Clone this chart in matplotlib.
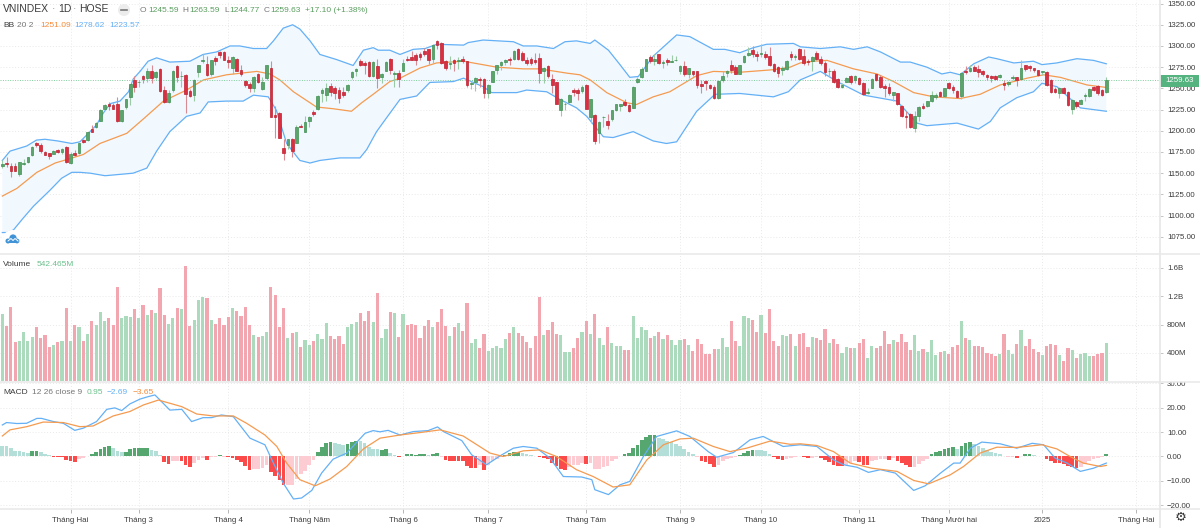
import matplotlib
matplotlib.use('Agg')
import matplotlib.pyplot as plt
from matplotlib.patches import Circle, Rectangle
from matplotlib.transforms import Bbox

plt.rcParams['font.family'] = ['Liberation Sans', 'DejaVu Sans']

# Daily candles, 260 sessions
open_p = [1159,1162,1159,1159,1149,1161,1163,1171,1186,1183,
    1175,1174,1173,1177,1175,1181,1162,1174,1174,1189,
    1189,1202,1204,1212,1226,1232,1230,1231,1211,1228,
    1240,1260,1257,1265,1262,1270,1263,1273,1248,1234,
    1248,1276,1264,1266,1247,1242,1269,1282,1279,1267,
    1286,1293,1293,1283,1274,1285,1272,1259,1255,1251,
    1267,1249,1262,1274,1219,1221,1180,1183,1190,1185,
    1206,1199,1211,1222,1226,1244,1242,1253,1251,1248,
    1246,1248,1263,1270,1282,1280,1281,1264,1276,1263,
    1271,1285,1267,1268,1271,1285,1287,1289,1290,1294,
    1296,1285,1306,1304,1282,1279,1283,1282,1285,1282,
    1255,1258,1261,1261,1245,1258,1272,1278,1281,1285,
    1285,1296,1292,1284,1285,1283,1286,1270,1276,1261,
    1257,1224,1231,1234,1248,1248,1247,1254,1216,1219,
    1197,1216,1212,1214,1225,1229,1234,1230,1227,1258,
    1263,1271,1287,1282,1290,1280,1284,1281,1283,1270,
    1276,1267,1270,1270,1255,1259,1254,1252,1239,1260,
    1268,1278,1275,1267,1281,1289,1295,1290,1290,1290,
    1288,1279,1275,1272,1273,1290,1287,1297,1288,1282,
    1282,1292,1285,1280,1270,1271,1261,1252,1258,1264,
    1260,1262,1256,1245,1251,1267,1263,1253,1252,1242,
    1244,1229,1218,1220,1203,1217,1229,1229,1235,1240,
    1246,1241,1256,1252,1247,1241,1271,1271,1275,1273,
    1270,1266,1264,1265,1263,1256,1255,1262,1263,1261,
    1277,1276,1274,1272,1269,1269,1260,1249,1245,1251,
    1246,1226,1234,1232,1241,1241,1252,1253,1248,1245.59]
high_p = [1165,1169,1162,1162,1163,1167,1169,1182,1187,1185,
    1176,1174,1177,1179,1180,1182,1175,1177,1186,1190,
    1199,1207,1210,1226,1231,1234,1233,1240,1225,1238,
    1255,1265,1260,1266,1274,1278,1270,1274,1253,1248,
    1272,1277,1271,1267,1249,1261,1278,1291,1288,1284,
    1288,1294,1294,1288,1288,1286,1278,1260,1258,1264,
    1268,1263,1278,1282,1229,1222,1190,1190,1191,1207,
    1208,1217,1217,1225,1242,1250,1256,1256,1253,1252,
    1252,1255,1271,1274,1285,1282,1282,1282,1285,1268,
    1282,1286,1270,1272,1285,1288,1294,1292,1293,1298,
    1296,1302,1307,1305,1283,1288,1285,1287,1288,1282,
    1259,1263,1263,1262,1255,1271,1278,1282,1285,1287,
    1295,1298,1294,1287,1287,1292,1292,1275,1277,1267,
    1257,1239,1235,1243,1250,1250,1254,1255,1237,1220,
    1211,1218,1220,1224,1232,1232,1237,1231,1253,1263,
    1275,1285,1289,1290,1291,1283,1286,1289,1288,1277,
    1282,1274,1271,1271,1260,1260,1255,1254,1260,1271,
    1272,1284,1277,1278,1289,1299,1300,1294,1302,1294,
    1299,1280,1276,1276,1283,1294,1290,1298,1296,1285,
    1288,1294,1288,1282,1274,1273,1262,1256,1263,1266,
    1266,1263,1257,1250,1262,1267,1266,1255,1256,1246,
    1245,1230,1223,1221,1223,1229,1233,1235,1247,1244,
    1247,1251,1258,1254,1248,1269,1276,1277,1278,1277,
    1272,1267,1266,1266,1267,1260,1259,1266,1263,1283,
    1278,1278,1274,1272,1271,1270,1261,1252,1252,1252,
    1247,1237,1235,1237,1244,1250,1253,1254,1249,1263.59]
low_p = [1156,1157,1146,1152,1147,1160,1162,1170,1181,1174,
    1171,1167,1173,1174,1173,1162,1161,1170,1173,1185,
    1188,1198,1203,1211,1224,1225,1226,1210,1210,1226,
    1230,1246,1252,1256,1257,1256,1261,1246,1233,1233,
    1246,1258,1252,1221,1240,1235,1263,1280,1264,1265,
    1277,1286,1283,1274,1267,1270,1265,1252,1246,1246,
    1256,1248,1260,1216,1191,1191,1165,1179,1169,1185,
    1204,1198,1205,1218,1224,1234,1235,1241,1238,1233,
    1240,1246,1261,1265,1276,1267,1263,1263,1250,1256,
    1270,1267,1252,1252,1270,1282,1283,1278,1283,1288,
    1279,1280,1297,1279,1272,1273,1270,1273,1280,1252,
    1249,1247,1252,1239,1239,1257,1267,1272,1278,1277,
    1284,1284,1282,1277,1278,1279,1256,1256,1262,1244,
    1231,1218,1225,1233,1241,1236,1245,1226,1209,1184,
    1185,1204,1202,1211,1223,1223,1229,1222,1227,1256,
    1262,1270,1280,1278,1279,1274,1277,1281,1282,1267,
    1264,1262,1264,1250,1244,1248,1249,1237,1238,1258,
    1263,1268,1267,1267,1280,1288,1287,1282,1287,1285,
    1276,1269,1263,1266,1272,1284,1284,1284,1277,1277,
    1271,1284,1277,1265,1263,1256,1251,1251,1257,1255,
    1256,1254,1242,1243,1250,1259,1250,1240,1242,1235,
    1230,1216,1203,1203,1198,1212,1226,1228,1234,1238,
    1240,1240,1249,1244,1239,1237,1267,1269,1270,1263,
    1265,1260,1258,1260,1262,1248,1253,1260,1253,1260,
    1271,1271,1269,1265,1266,1253,1245,1245,1239,1244,
    1229,1220,1227,1231,1235,1240,1247,1242,1241,1244.77]
close_p = [1161,1161,1153,1153,1163,1162,1169,1181,1183,1176,
    1172,1170,1176,1175,1179,1163,1173,1171,1186,1187,
    1199,1199,1209,1225,1230,1229,1226,1211,1224,1237,
    1255,1252,1258,1261,1270,1262,1269,1247,1234,1245,
    1271,1263,1264,1243,1241,1260,1277,1283,1266,1283,
    1282,1289,1284,1281,1287,1271,1267,1254,1250,1263,
    1258,1258,1277,1216,1216,1192,1174,1190,1176,1205,
    1205,1210,1216,1220,1241,1248,1251,1246,1244,1239,
    1242,1254,1269,1273,1277,1278,1265,1281,1262,1267,
    1281,1272,1268,1261,1280,1283,1284,1283,1287,1290,
    1284,1301,1301,1280,1274,1280,1280,1283,1282,1254,
    1256,1262,1260,1244,1254,1270,1277,1281,1284,1283,
    1294,1285,1283,1280,1280,1281,1268,1274,1264,1254,
    1232,1238,1232,1242,1246,1245,1252,1226,1237,1188,
    1210,1216,1207,1224,1231,1231,1230,1223,1252,1261,
    1273,1285,1282,1285,1280,1281,1281,1282,1284,1276,
    1267,1274,1267,1254,1253,1256,1251,1239,1259,1265,
    1271,1272,1267,1277,1288,1292,1290,1288,1292,1287,
    1278,1270,1268,1274,1282,1287,1288,1285,1280,1281,
    1287,1285,1280,1269,1271,1257,1252,1254,1262,1258,
    1264,1255,1243,1246,1261,1260,1252,1250,1244,1246,
    1232,1218,1216,1205,1217,1228,1227,1235,1242,1242,
    1241,1250,1251,1248,1240,1268,1269,1274,1271,1269,
    1267,1263,1262,1261,1266,1254,1258,1263,1260,1274,
    1273,1274,1272,1266,1270,1254,1246,1246,1251,1245,
    1230,1236,1229,1236,1242,1249,1248,1245,1242,1259.63]

# Volume, millions
volume = [943,780,1042,560,575,700,566,628,770,604,
    652,485,505,557,570,1028,570,790,770,566,
    671,847,795,980,847,895,800,1333,895,923,
    900,1014,890,1071,928,1009,957,1314,933,804,
    895,1028,1014,1623,785,866,1142,1185,1171,866,
    809,895,790,900,1033,995,923,1042,790,652,
    624,643,700,1323,1218,771,1033,614,680,700,
    490,576,510,566,671,595,818,643,600,643,
    528,762,804,838,957,847,995,838,1247,604,
    743,971,961,624,
    943,790,814,800,604,780,866,770,838,1014,
    780,633,770,818,709,1109,547,595,476,671,
    433,471,500,476,600,680,762,680,643,557,
    476,643,1185,652,728,843,671,657,419,419,
    466,604,690,857,662,952,614,514,766,547,
    495,495,447,438,923,614,771,719,614,643,
    700,595,657,585,514,585,595,514,433,600,
    519,381,390,457,462,604,485,847,566,495,
    914,895,861,700,928,680,1014,571,500,652,
    643,671,495,671,
    681,486,624,614,585,733,543,595,528,400,
    490,476,476,543,600,333,500,476,500,714,
    519,585,557,671,557,438,652,428,457,409,
    576,371,414,428,390,486,514,847,604,585,
    500,500,490,400,390,362,390,671,443,390,
    524,724,500,600,457,409,371,500,524,514,
    371,286,476,438,328,390,395,362,362,381,
    400,542.465]

# MACD histogram and its colour class per bar
macd_hist = [4.4,4.4,3.3,2.2,2.2,1.8,1.6,2.2,2.3,1.9,
    1.2,.7,-.1,-.2,-.3,-1.5,-1.9,-2.2,-1.2,-.5,
    .4,1.1,1.8,3.1,4.0,4.4,3.5,2.2,1.8,2.0,
    3.1,3.3,3.3,3.4,3.4,2.7,2.2,.7,-2.3,-3.0,
    -1.9,-1.9,-1.9,-3.4,-4.2,-2.7,-1.6,-.7,-1.4,-.3,
    -.3,.5,-.1,-.4,-.5,-1.6,-2.4,-3.8,-5.4,-5.0,
    -5.0,-4.8,-3.4,-6.3,-7.9,-9.7,-11.8,-11.6,-11.6,-9.2,
    -7.1,-6.1,-3.4,-1.4,1.8,3.8,5.4,5.9,5.4,5.0,
    4.9,5.0,5.9,6.3,6.3,5.4,3.7,3.0,3.1,2.7,
    3.0,1.4,.7,-.4,
    .4,1.0,1.0,.8,1.0,1.2,.7,1.0,1.5,-.1,
    -1.5,-1.8,-2.0,-2.0,-2.0,-3.8,-4.9,-4.9,-3.5,-5.4,
    -3.4,-2.0,-1.0,-.3,.5,1.4,2.0,2.0,1.4,1.1,
    .8,.4,-.4,-.6,-1.0,-2.7,-4.0,-5.2,-5.7,-4.1,
    -3.4,-3.4,-2.7,-3.1,-2.7,-5.0,-5.0,-4.4,-3.8,-2.0,
    -1.0,.3,1.1,1.5,3.4,4.8,6.8,8.0,8.8,8.8,
    7.5,7.2,6.5,6.1,5.0,4.1,3.0,2.0,1.1,-.2,
    -2.0,-2.4,-3.0,-4.2,-3.4,-1.9,-1.0,-.7,-.3,.7,
    1.6,2.2,2.7,2.7,2.7,2.1,1.2,-.3,-1.0,-1.6,
    -1.0,-.6,-.3,.1,
    -.1,-.7,-.5,-.3,-.8,-1.4,-2.4,-3.3,-4.0,-4.0,
    -3.4,-2.7,-1.9,-2.4,-3.3,-3.3,-1.9,-1.3,-1.0,-1.0,
    -1.3,-.7,-2.0,-2.7,-3.4,-4.5,-4.2,-3.0,-2.0,-1.0,
    1.2,1.8,2.4,3.0,3.5,3.9,3.2,4.4,5.4,5.9,
    5.2,4.4,3.4,2.7,2.0,1.5,.9,.2,-.3,-.4,
    -.5,.4,.9,1.2,.6,.3,.1,-1.2,-2.0,-2.7,
    -2.7,-3.0,-3.7,-4.2,-4.7,-4.2,-3.0,-1.8,-1.1,-.7,
    -.3,.95]
hist_kinds = ('gggggggGGgggRRRRRRrrGGGGGGgggGGGGGGgggRRrrRRRrrrRrrGrRRRRRRrrrrRRRRrrrrrrrGGGGgggGGGgggggGGggR'
    'GGGGGGgGGrRRRRRRRRrRrrrrGGGGggggRRRRRRRrrrrRrrrrrrrGGGGGGGGGgggggggggrRRRRrrrrrGGGGggggRRRrrrg'
    'RRrrRRRRRRrrrRRRrrrrRrRRRRrrrrGGGGGGgGGGggggggggrrRGGGgggRRRRRRRRrrrrrrG')

# Bollinger bands, vertices (bar index, price)
bb_upper_x = [0,1.8,5.7,8,10,13,16.3,18.2,20.2,22.1,23.7,25.3,27.6,29.6,30.7,32.3,34.2,36.2,39.3,44,
    47.1,50.3,53.4,55.7,58.9,62,63.6,65.9,68.1,69.8,72.2,74.5,78.4,82.3,84.7,87,88.2,90.9,93.3,96.4,
    99.2,101.9,108.2,109.3,112.8,119.9,122.2,125.4,129.3,132,134.7,137.9,139,142.2,144.9,147.2,149.2,152.7,158.2,161.3,
    166.8,169.5,173,176.2,179.3,185.6,187.2,191.9,196.6,199.7,202.9,206,210.7,213,216.9,220.4,222.4,224.7,227.9,231.4,
    233.3,237.3,241.9,243.9,247.4,252.1,256,259]
bb_upper = [1165,1176,1182,1189,1190,1188,1185,1187,1197,1207,1221,1232,1235,1246,1261,1270,1282,1286,1281,1282,
    1290,1293,1300,1300,1297,1297,1306,1321,1325,1320,1306,1290,1284,1277,1295,1298,1295,1295,1290,1296,
    1297,1302,1301,1304,1307,1305,1300,1300,1297,1305,1306,1303,1307,1295,1278,1263,1264,1288,1313,1311,
    1296,1296,1292,1298,1302,1303,1299,1297,1299,1296,1299,1293,1281,1281,1275,1267,1269,1266,1279,1287,
    1285,1280,1282,1278,1280,1285,1283,1279]
bb_lower_x = [0,1,2.6,4.9,7.3,11.2,13.9,16.3,18.2,20.6,24.1,30.7,33.9,36.2,39.3,43.2,46.4,48.3,52.6,56.5,
    58.9,62.4,64.3,66.7,69.8,72.2,74.5,79.2,83.9,85.5,87.8,90.1,93.3,97.2,100.3,105.8,108.2,112.8,114.8,120.7,
    123,127.7,130.8,134.7,137.1,141,143.3,148,152.7,155.8,158.2,162.9,167.2,173,180.9,184.4,187.2,191.9,196.6,202.1,
    209.9,214.6,216.9,224,229,231.8,234.1,238,241.9,243.9,247.4,252.9,259]
bb_lower = [1080,1080,1083,1097,1111,1130,1144,1151,1151,1150,1147,1150,1156,1176,1199,1217,1221,1234,1235,1235,
    1242,1240,1224,1185,1165,1162,1165,1168,1168,1178,1199,1215,1237,1241,1257,1258,1262,1252,1245,1245,
    1248,1246,1237,1227,1217,1193,1192,1199,1188,1185,1187,1223,1243,1244,1240,1246,1260,1270,1256,1242,
    1235,1209,1206,1209,1202,1211,1227,1239,1246,1256,1252,1227,1223]
bb_mid_x = [0,3.4,8.1,12.4,15.1,19,22.9,29.2,33.1,37.8,43.2,47.2,52.6,56.1,59.7,62.8,65.1,68.3,73.7,77.6,
    81.9,84.3,87,90.9,93.3,98,101.9,108.2,116,122.2,126.1,132.4,135.5,137.9,141.8,146.5,148.8,152.7,156.6,162.9,
    166.8,173,180.9,184.8,187.2,190.3,193.5,199.7,205.2,209.1,213.8,218.5,224.7,229.4,234.1,240.4,244.3,248.2,254.5,259]
bb_mid = [1123,1132,1151,1162,1166,1172,1185,1197,1214,1235,1248,1260,1266,1268,1270,1267,1260,1246,1228,1226,
    1223,1233,1243,1258,1262,1274,1280,1282,1275,1273,1273,1268,1266,1260,1245,1233,1231,1240,1246,1265,
    1270,1269,1272,1275,1280,1282,1283,1273,1267,1258,1245,1240,1238,1243,1254,1262,1266,1263,1254,1251.09]

# MACD and signal lines, vertices
macd_x = [0,1,3.4,5.7,8.1,9.2,12,14.3,17,19,22.1,24.5,26.4,28,29.9,32.3,34.2,35.8,37,39.3,
    42.1,44.4,47.1,49.1,51.4,54.2,58.1,61.6,63.6,65.9,68.3,70.2,72.6,74.9,77.6,80.8,85.1,87,88.6,90.5,
    93.3,96.4,99.9,102.1,103.5,107.8,110.1,113.6,116.8,119.9,122.2,125.4,128.5,131.6,135.9,138.3,139,142.2,144.9,147.2,
    150.4,153.5,158.2,161.3,165.6,167.6,171.5,175.4,178.5,183.2,187.2,191.1,195,197.4,200.5,203.2,206,209.5,213.8,216.5,
    220.1,223.2,224.7,227.1,229.8,234.1,238,241.6,244.3,247,249.8,252.9,256,259]
macd_line = [12.9,13.9,13.5,13.6,15.6,15.6,14.3,13.6,10.7,11.6,14.3,19.3,19.9,18.8,21.5,23.5,24.5,25.2,23.1,19,
    19.3,14.3,15.9,15.9,17,16.3,7.5,4.8,-2.7,-10.9,-17.4,-17,-13.9,-6.8,-1.1,1.4,9.5,10.6,10.1,10.7,
    8.8,10.2,10.6,12.1,10.2,6.5,.7,-3.4,.3,3.4,4.1,3.4,-.7,-8.2,-8.4,-9.5,-13.6,-15.6,-11.6,-10.2,
    0,8.2,10.5,8.2,2,-.3,1.6,6.8,8.2,4.1,4.8,4.1,-1.4,-3.4,-4.4,-6.5,-5.4,-6.8,-13.9,-12,
    -6.8,-2.7,-2.7,3.4,5.9,5.2,3.4,5.4,4.8,-.7,-2.7,-6.1,-4.8,-2.69]
signal_x = [0,1.8,5.7,9.6,14.3,18.2,21.3,26,29.9,33.1,36.6,39.3,42.1,45.6,49.5,54.2,57.3,61.6,64.4,66.7,
    69.8,73.4,76.9,80.8,84.7,88.6,93.3,98,102.7,108.1,114.4,117.5,122.2,126.1,130,134.7,138.6,143.3,147.2,151.2,
    155.1,159,162.1,166.8,170.7,174.6,180.1,184.8,187.2,191.1,195,198.9,204,209.9,213.8,217.3,222.4,225.5,229.4,233.3,
    238,243.9,247.4,250.5,253.6,257.6,259]
signal_line = [8.4,10.9,12.2,14.1,13.9,12.2,12.5,16.6,18.4,21.1,23.1,21.8,20.4,17.4,16.6,16.6,13.6,8.8,4.1,-2.7,
    -9.5,-12,-9.2,-4.1,3.1,7.5,8.8,9.8,10.9,8.4,1.4,0,2.3,2.7,0,-5.4,-8.2,-12.5,-11.6,-1.4,
    4.8,7.2,7.5,4.1,2,3.4,6.3,5,5.2,4.5,2,-2.7,-4.8,-6.1,-9.8,-11.2,-7.5,-4.1,1.4,3.8,
    3.7,4.8,3.1,0,-2.7,-4.1,-3.65]

# Axis labels
month_ticks = [16,32,53,72,94,114,137,159,178,201,222,244,266]
month_labels = ['Tháng Hai','Tháng 3','Tháng 4','Tháng Năm','Tháng 6','Tháng 7','Tháng Tám','Tháng 9',
    'Tháng 10','Tháng 11','Tháng Mười hai','2025','Tháng Hai']
price_ticks = [1075,1100,1125,1150,1175,1200,1225,1250,1275,1300,1325,1350]
volume_ticks = [400,800,1200,1600]
volume_labels = ['400M','800M','1.2B','1.6B']
macd_ticks = [-20,-10,0,10,20,30]
last_close = 1259.63

assert len(open_p) == len(high_p) == len(low_p) == len(close_p) == len(volume) == len(macd_hist) == len(hist_kinds) == 260

UP = '#5ba56c'
UP_EDGE = '#3f9052'
UP_WICK = '#9ccaa6'
DOWN = '#d92f40'
DOWN_EDGE = '#bf2030'
DOWN_WICK = '#d98b94'
BLUE = '#64b0f6'
ORANGE = '#f59b50'
GRID = '#e9e9e9'
TEXT = '#3c3c3c'
BAND = '#e8e8e8'
HIST_COLORS = {'G': '#55a76f', 'g': '#b4dfd9', 'R': '#fb4a4a', 'r': '#fdccd2'}

W, H = 1200, 528
RIGHT = 1160
bars = list(range(len(close_p)))
# 4.2625 px per bar, the first bar sits 2.33 px from the left edge
xlim = (-2.33 / 4.2625, (RIGHT - 2.33) / 4.2625)

fig = plt.figure(figsize=(W / 100, H / 100), dpi=100, facecolor='white')

def panel(top, bottom):
    ax = fig.add_axes([0, 1 - bottom / H, RIGHT / W, (bottom - top) / H])
    ax.set_xlim(xlim)
    for s in ax.spines.values():
        s.set_visible(False)
    ax.yaxis.tick_right()
    ax.tick_params(axis='y', length=2, width=0.6, color='#bbbbbb', pad=3, labelsize=5.7, labelcolor=TEXT)
    ax.tick_params(axis='x', length=0, labelbottom=False)
    ax.set_xticks(month_ticks)
    ax.grid(True, color=GRID, linestyle=(0, (1, 2)), linewidth=0.7)
    ax.set_axisbelow(True)
    return ax

ax_price = panel(0, 254)
ax_vol = panel(254, 382)
ax_macd = panel(382, 509)

# Price panel
ax_price.set_ylim(1054.7, 1354.2)
ax_price.set_yticks(price_ticks)
ax_price.set_yticklabels(['%.2f' % p for p in price_ticks])
ax_price.fill(bb_upper_x + bb_lower_x[::-1], bb_upper + bb_lower[::-1], color='#f1f8fe', lw=0, zorder=1)
ax_price.plot(bb_upper_x, bb_upper, color=BLUE, lw=0.9, zorder=2)
ax_price.plot(bb_lower_x, bb_lower, color=BLUE, lw=0.9, zorder=2)
ax_price.plot(bb_mid_x, bb_mid, color=ORANGE, lw=0.9, zorder=2)
ax_price.axhline(last_close, color='#7fcb9b', lw=0.7, linestyle=(0, (1, 1.5)), zorder=2)

is_up = [c >= o for o, c in zip(open_p, close_p)]
ax_price.vlines(bars, low_p, high_p, colors=[UP_WICK if u else DOWN_WICK for u in is_up], lw=0.8, zorder=3)
ax_price.bar(bars, [max(abs(c - o), 0.6) for o, c in zip(open_p, close_p)],
             bottom=[min(o, c) for o, c in zip(open_p, close_p)], width=0.62,
             color=[UP if u else DOWN for u in is_up],
             edgecolor=[UP_EDGE if u else DOWN_EDGE for u in is_up], linewidth=0.5, zorder=4)

# Volume panel
ax_vol.set_ylim(-10, 1795)
ax_vol.set_yticks(volume_ticks)
ax_vol.set_yticklabels(volume_labels)
ax_vol.bar(bars, volume, width=0.74, color=['#abdabc' if u else '#f2a6af' for u in is_up], zorder=3)

# MACD panel
ax_macd.set_ylim(-21.5, 30.5)
ax_macd.set_yticks(macd_ticks)
ax_macd.set_yticklabels(['%.2f' % t if t >= 0 else '\u2212%.2f' % -t for t in macd_ticks])
ax_macd.bar(bars, macd_hist, width=0.86, color=[HIST_COLORS[k] for k in hist_kinds], zorder=2)
ax_macd.plot(macd_x, macd_line, color=BLUE, lw=0.9, zorder=3)
ax_macd.plot(signal_x, signal_line, color=ORANGE, lw=0.9, zorder=3)
ax_macd.tick_params(axis='x', length=3, width=0.6, color='#aaaaaa', labelbottom=True,
                    labelsize=5.7, labelcolor=TEXT, pad=2.5)
ax_macd.set_xticklabels(month_labels)
# 30.00 is cut by the panel above
clip = Bbox([[RIGHT, H - 509], [W, H - 382]])
for lab in ax_macd.get_yticklabels():
    lab.set_clip_box(clip)
    lab.set_clip_on(True)

# Overlay in pixel coordinates for legends and furniture
ov = fig.add_axes([0, 0, 1, 1], facecolor='none')
ov.set_xlim(0, W)
ov.set_ylim(H, 0)
ov.axis('off')

def label(x, y, s, color=TEXT, size=6.0, **kw):
    ov.text(x, y, s, color=color, fontsize=size, ha=kw.pop('ha', 'left'), va='center', **kw)

for y in (254, 382, 509):
    ov.plot([0, W], [y, y], color=BAND, lw=1.1)
ov.plot([RIGHT, RIGHT], [0, H], color=BAND, lw=1.3)

label(3, 9.5, 'VNINDEX', size=7.5)
label(52, 9.5, '·', color='#888888', size=7.5)
label(58, 9.5, '1D', size=7.5)
label(73, 9.5, '·', color='#888888', size=7.5)
label(79, 9.5, 'HOSE', size=7.5)
ov.add_patch(Circle((124, 10), 6, color='#ececec', lw=0))
ov.plot([121, 127], [10, 10], color='#777777', lw=1.2)

OHLC = '#5a9e5f'
for x_letter, letter, x_val, val in [(140, 'O', 148, '1245.59'), (182, 'H', 189, '1263.59'),
                                     (224, 'L', 229.5, '1244.77'), (263.5, 'C', 270.5, '1259.63')]:
    label(x_letter, 10.5, letter, color='#777777')
    label(x_val, 10.5, val, color=OHLC)
label(305, 10.5, '+17.10 (+1.38%)', color=OHLC)

label(3, 25.5, 'BB')
label(17, 25.5, '20 2', color='#777777')
label(40, 25.5, '1251.09', color='#f58c3c')
label(74, 25.5, '1278.62', color=BLUE)
label(109, 25.5, '1223.57', color=BLUE)

label(3, 265, 'Volume')
label(37, 265, '542.465M', color='#6cc08c')

label(3, 393, 'MACD')
label(31.5, 393, '12 26 close 9', color='#777777')
label(87, 393, '0.95', color='#6cc08c')
label(107, 393, '\u22122.69', color=BLUE)
label(133, 393, '\u22123.65', color='#f58c3c')

# Last price tag
ov.add_patch(Rectangle((1160, 74.5), 39, 12, color='#55b380', lw=0))
label(1179.5, 80.5, '1259.63', color='white', size=5.7, ha='center')

# Cloud button
ov.add_patch(Circle((12, 239), 9, color='white', lw=0))
for cx, cy, r in [(8, 241, 2.5), (13, 238, 3.6), (17, 241, 2.4)]:
    ov.add_patch(Circle((cx, cy), r, color='#3f93d6', lw=0))
ov.add_patch(Rectangle((7, 240), 11, 3.4, color='#3f93d6', lw=0))
ov.plot([8, 11, 13, 15, 18], [241, 238.5, 240.5, 238.5, 241], color='white', lw=0.7)

label(1181, 518, '\u2699', color='#333333', size=9.5, ha='center')

fig.savefig('out.png', dpi=100)
